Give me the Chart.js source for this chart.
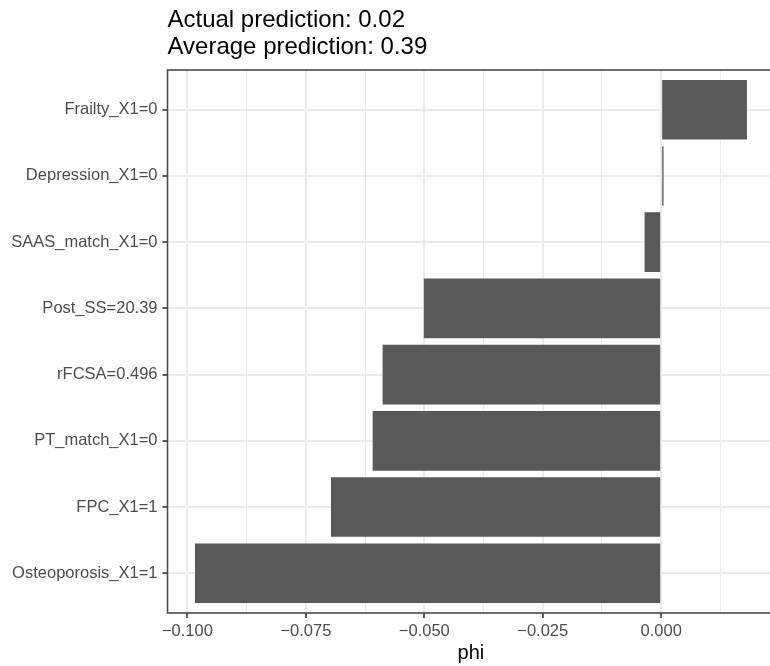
<!DOCTYPE html>
<html lang="en">
<head>
  <meta charset="UTF-8">
  <title>phi breakdown</title>
  <script src="https://cdn.jsdelivr.net/npm/chart.js"></script>
  <style>
    html, body {
      margin: 0;
      padding: 0;
      background: #ffffff;
      width: 770px;
      height: 666px;
      overflow: hidden;
    }
    #chart {
      display: block;
    }
  </style>
</head>
<body>
  <canvas id="chart" width="780" height="666"></canvas>

  <script>
    // values
    const features = [
      "Frailty_X1=0",
      "Depression_X1=0",
      "SAAS_match_X1=0",
      "Post_SS=20.39",
      "rFCSA=0.496",
      "PT_match_X1=0",
      "FPC_X1=1",
      "Osteoporosis_X1=1"
    ];
    const phiValues = [0.0181, 0.0005, -0.0035, -0.0501, -0.0588, -0.0609, -0.0697, -0.0984];
    const xMajorTicks = [-0.1, -0.075, -0.05, -0.025, 0];
    const xMinorTicks = [-0.0875, -0.0625, -0.0375, -0.0125, 0.0125];
    const titleLines = ["Actual prediction: 0.02", "Average prediction: 0.39"];

    const FONT = "'Liberation Sans', Arial, Helvetica, sans-serif";

    const fmtTick = (v) => {
      if (Math.abs(v) < 1e-9) return "0.000";
      return (v < 0 ? "\u2212" : "") + Math.abs(v).toFixed(3);
    };
    const isMajor = (v) => xMajorTicks.includes(v);

    // title above the panel + grey panel border
    const ggDecor = {
      id: "ggDecor",
      afterDraw(chart) {
        const { ctx, chartArea } = chart;
        ctx.save();
        ctx.strokeStyle = "#4a4a4a";
        ctx.lineWidth = 1.6;
        ctx.strokeRect(chartArea.left, chartArea.top, chartArea.right - chartArea.left, chartArea.bottom - chartArea.top);

        ctx.fillStyle = "#000000";
        ctx.font = "24px " + FONT;
        ctx.textAlign = "left";
        ctx.textBaseline = "middle";
        ctx.fillText(titleLines[0], chartArea.left, 20);
        ctx.fillText(titleLines[1], chartArea.left, 47);
        ctx.restore();
      }
    };

    new Chart(document.getElementById("chart"), {
      type: "bar",
      data: {
        datasets: [{
          data: phiValues.map((v, i) => ({ x: v, y: i + 1 })),
          backgroundColor: "#595959",
          borderWidth: 0,
          barPercentage: 0.9,
          categoryPercentage: 1.0
        }]
      },
      options: {
        indexAxis: "y",
        responsive: false,
        animation: false,
        devicePixelRatio: 1,
        layout: { padding: { top: 70, left: 0, right: 5.6, bottom: 0 } },
        plugins: {
          legend: { display: false },
          tooltip: { enabled: false }
        },
        scales: {
          x: {
            type: "linear",
            min: -0.1042,
            max: 0.0239,
            afterBuildTicks: (scale) => {
              scale.ticks = xMajorTicks.concat(xMinorTicks)
                .sort((a, b) => a - b)
                .map((v) => ({ value: v }));
            },
            afterFit: (scale) => { scale.height = 53; },
            border: { display: false },
            grid: {
              color: "#ebebeb",
              lineWidth: (c) => (c.tick && isMajor(c.tick.value) ? 2 : 1),
              tickColor: (c) => (c.tick && isMajor(c.tick.value) ? "#333333" : "rgba(0,0,0,0)"),
              tickLength: 5,
              tickWidth: 1.6
            },
            ticks: {
              autoSkip: false,
              maxRotation: 0,
              padding: 4,
              color: "#4d4d4d",
              font: { family: FONT, size: 16.5 },
              callback: (v) => (isMajor(v) ? fmtTick(v) : "")
            },
            title: {
              display: true,
              text: "phi",
              color: "#000000",
              font: { family: FONT, size: 20 },
              padding: { top: 0, bottom: 1 }
            }
          },
          y: {
            type: "linear",
            min: 0.4,
            max: 8.6,
            reverse: true,
            offset: false,
            afterBuildTicks: (scale) => {
              scale.ticks = features.map((_, i) => ({ value: i + 1 }));
            },
            afterFit: (scale) => { scale.width = 167.5; },
            border: { display: false },
            grid: {
              offset: false,
              color: "#ebebeb",
              lineWidth: 2,
              tickColor: "#333333",
              tickLength: 5,
              tickWidth: 1.6
            },
            ticks: {
              autoSkip: false,
              padding: 5,
              color: "#4d4d4d",
              font: { family: FONT, size: 16.5 },
              callback: (v) => features[v - 1]
            }
          }
        }
      },
      plugins: [ggDecor]
    });
  </script>
</body>
</html>
